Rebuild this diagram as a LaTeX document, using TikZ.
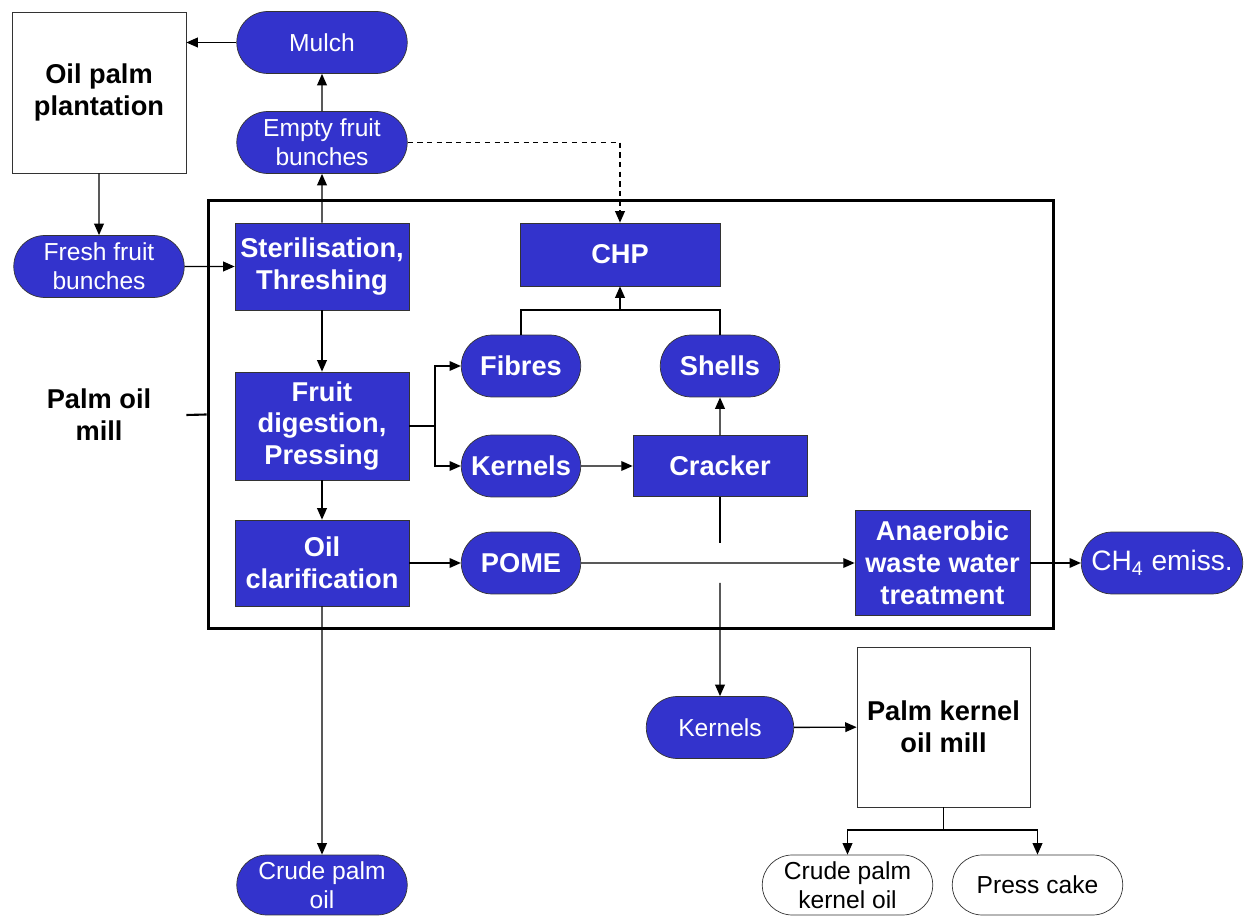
\documentclass[tikz,border=0pt]{standalone}
\usepackage{fontspec}
\setmainfont{Liberation Sans}
\usepackage{xcolor}
\usetikzlibrary{shapes.misc, positioning}
\usetikzlibrary{arrows.meta}
\definecolor{millblue}{HTML}{3333CC}
\newcommand{\bigtxt}{\fontsize{15.5}{18.2}\selectfont\bfseries}
\newcommand{\smalltxt}{\fontsize{14}{16.5}\selectfont}
\tikzstyle{process} = [rectangle, minimum width=3.48cm, minimum height=1.74cm, text centered, align=center, draw=black!80, fill=millblue, text=white, font=\bigtxt, inner sep=1pt]
\tikzstyle{stream} = [rounded rectangle, minimum width=2.46cm, minimum height=1.24cm, draw=black!80, fill=millblue, text=white, font=\bigtxt, align=center, inner sep=1pt]
\tikzstyle{stream1} = [stream, minimum width=3.48cm, font=\smalltxt]
\tikzstyle{product} = [stream1, minimum height=1.2cm, fill=white, text=black]
\tikzstyle{unit} = [rectangle, minimum width=3.48cm, minimum height=3.22cm, draw=black!80, fill=white, align=center, font=\bigtxt]
\tikzstyle{arrow} = [line width=0.8pt, -{Triangle[length=6.5pt, width=5.5pt]}]
\tikzstyle{link} = [line width=0.8pt]

\begin{document}
\begin{tikzpicture}[x=0.02cm, y=-0.02cm]
    \useasboundingbox (0,0) rectangle (1245,918);
    \node (frame) [draw, line width=1.7pt, minimum width=16.92cm, minimum height=8.58cm] at (631,414.5) {};
    \node (plantation) [unit] at (99,92.5) {Oil palm\\plantation};
    \node (mulch) [stream1] at (322,42.5) {Mulch};
    \node (efb) [stream1] at (322,142.5) {Empty fruit\\bunches};
    \node (ffb) [stream1] at (99,266.5) {Fresh fruit\\bunches};
    \node (steril) [process] at (322,266.5) {Sterilisation,\\Threshing};
    \node (chp) [process, minimum width=4cm, minimum height=1.26cm] at (620,254.5) {CHP};
    \node (fibres) [stream] at (521,366) {Fibres};
    \node (shells) [stream] at (720,366) {Shells};
    \node (digest) [process, minimum height=2.16cm] at (322,426) {Fruit\\digestion,\\Pressing};
    \node (kernels) [stream] at (521,466) {Kernels};
    \node (cracker) [process, minimum height=1.22cm] at (720,466) {Cracker};
    \node (clarif) [process, minimum height=1.72cm] at (322,563) {Oil\\clarification};
    \node (pome) [stream] at (521,563) {POME};
    \node (anaerobic) [process, minimum width=3.5cm, minimum height=2.1cm] at (942.5,563) {Anaerobic\\waste water\\treatment};
    \node (ch4) [stream, minimum width=3.3cm, font=\fontsize{16}{18}\selectfont] at (1162,563) {CH\textsubscript{4} emiss.};
    \node (kernels2) [stream1, minimum width=3.02cm] at (720,727.5) {Kernels};
    \node (pkmill) [unit, minimum width=3.46cm, minimum height=3.2cm] at (943.5,727) {Palm kernel\\oil mill};
    \node (cpko) [product] at (847.5,885) {Crude palm\\kernel oil};
    \node (cake) [product] at (1037.5,885) {Press cake};
    \node (cpo) [stream1, minimum height=1.2cm] at (322,885) {Crude palm\\oil};
    \node (millname) [minimum width=3.48cm, font=\bigtxt, align=center] at (99,415) {Palm oil\\mill};
    \coordinate (split) at (435,426);
    \coordinate (join) at (620,310);
    \coordinate (hopA) at (720,543);
    \coordinate (hopB) at (720,583);
    \coordinate (fork) at (943.5,830);
    \draw[arrow] (mulch.west) -- (mulch.west -| plantation.east);
    \draw[arrow] (efb) -- (mulch);
    \draw[arrow] (steril) -- (efb);
    \draw[arrow, dash pattern=on 3pt off 2.5pt] (efb) -| (chp);
    \draw[arrow] (plantation) -- (ffb);
    \draw[arrow] (ffb) -- (steril);
    \draw[arrow] (steril) -- (digest);
    \draw[link] (digest) -- (split);
    \draw[arrow] (split) |- (fibres);
    \draw[arrow] (split) |- (kernels);
    \draw[arrow] (kernels) -- (cracker);
    \draw[arrow] (cracker) -- (shells);
    \draw[link] (fibres) |- (join) -| (shells);
    \draw[arrow] (join) -- (chp);
    \draw[arrow] (digest) -- (clarif);
    \draw[arrow] (clarif) -- (pome);
    \draw[arrow] (pome) -- (anaerobic);
    \draw[arrow] (anaerobic) -- (ch4);
    \draw[arrow] (clarif) -- (cpo);
    \draw[link] (cracker) -- (hopA);
    \draw[arrow] (hopB) -- (kernels2);
    \draw[arrow] (kernels2) -- (pkmill);
    \draw[link] (pkmill) -- (fork);
    \draw[arrow] (fork) -| (cpko);
    \draw[arrow] (fork) -| (cake);
    \draw[line width=1.2pt] (millname.east) -- (frame.west);
\end{tikzpicture}
\end{document}
